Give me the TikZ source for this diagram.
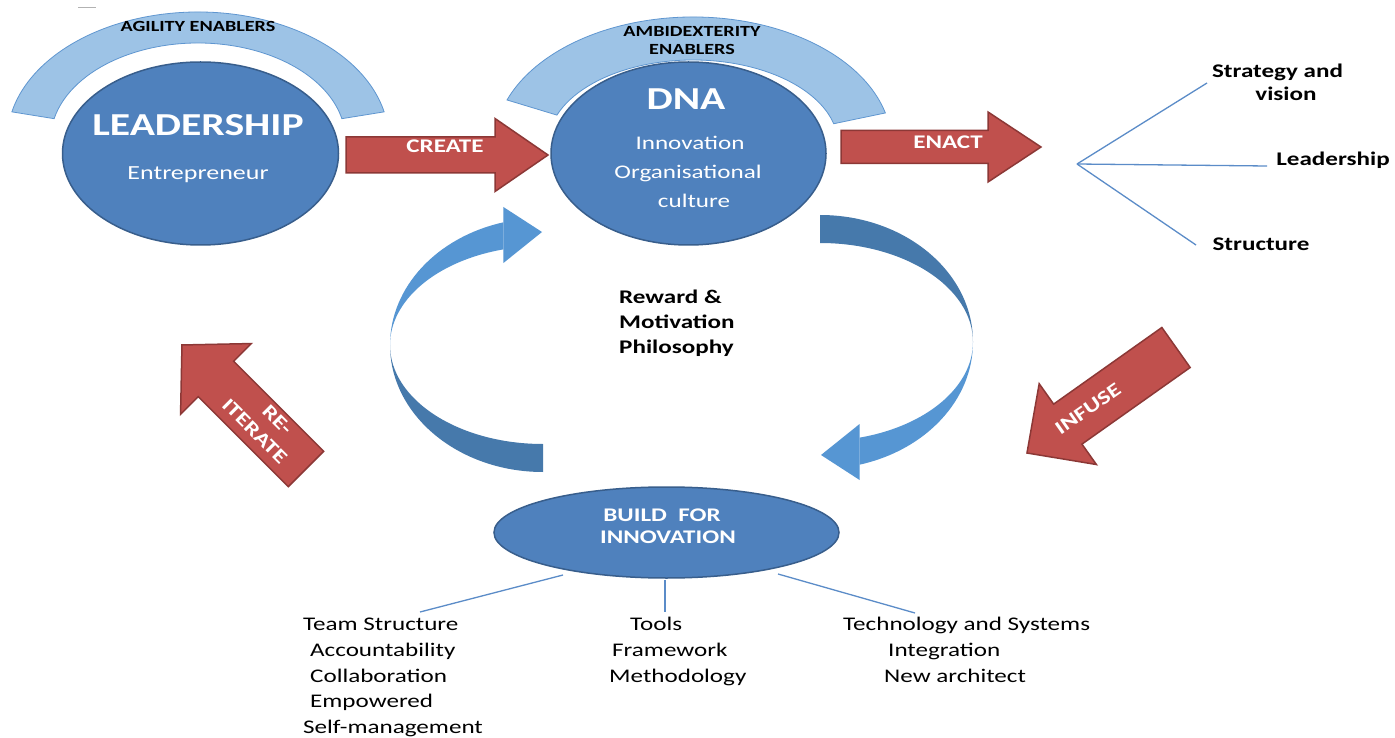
\documentclass[tikz,border=0pt]{standalone}
\usepackage{fontspec}
\setmainfont{Carlito}[FakeStretch=1.3]
\usetikzlibrary{calc,shapes.geometric}
\definecolor{ellfill}{RGB}{79,129,189}
\definecolor{elldraw}{RGB}{56,94,140}
\definecolor{arcfill}{RGB}{157,195,230}
\definecolor{arcdraw}{RGB}{95,150,208}
\definecolor{redfill}{RGB}{192,80,77}
\definecolor{reddraw}{RGB}{140,56,54}
\definecolor{crlight}{RGB}{86,150,211}
\definecolor{crdark}{RGB}{70,121,171}
\definecolor{lineblue}{RGB}{91,140,200}

\newcommand\blockarr[6]{%
\begin{scope}[shift={#1},rotate=#2]
\filldraw[fill=redfill,draw=reddraw,line width=1.5pt,line join=miter]
 (0,-#4) -- ({#3-#6},-#4) -- ({#3-#6},-#5) -- (#3,0) -- ({#3-#6},#5) -- ({#3-#6},#4) -- (0,#4) -- cycle;
\end{scope}}

\newcommand\curvarr{%
\fill[crlight] (105:153pt and 127pt) arc[start angle=105,end angle=180,x radius=153pt,y radius=127pt]
  arc[start angle=180,end angle=105,x radius=153pt,y radius=99pt] -- cycle;
\fill[crlight] (-39.6,138) -- (-1,113) -- (-39.6,82) -- cycle;
\fill[crdark] (180:153pt and 127pt) arc[start angle=180,end angle=270,x radius=153pt,y radius=127pt]
  -- (270:153pt and 99pt) arc[start angle=270,end angle=180,x radius=153pt,y radius=99pt] -- cycle;
}

\newcommand\enabler[7]{%
\filldraw[fill=arcfill,draw=arcdraw,line width=0.8pt]
 ($#1+(#2:#4pt and #5pt)$) arc[start angle=#2,end angle=#3,x radius=#4pt,y radius=#5pt]
 -- ($#1+(#3:#6pt and #7pt)$) arc[start angle=#3,end angle=#2,x radius=#6pt,y radius=#7pt] -- cycle;}

\tikzset{
  ell/.style={ellipse,fill=ellfill,draw=elldraw,line width=1.5pt,inner sep=0pt},
  conn/.style={draw=lineblue,line width=1.3pt},
  lbl/.style={font=\fontsize{19.3pt}{23pt}\selectfont,text=black,inner sep=0pt,text height=12pt,text depth=0pt},
  blbl/.style={lbl,font=\fontsize{19.3pt}{23pt}\selectfont\bfseries},
  wlbl/.style={blbl,text=white},
  wreg/.style={lbl,text=white},
  big/.style={font=\fontsize{32pt}{38pt}\selectfont\bfseries,text=white,inner sep=0pt,text height=20pt,text depth=0pt},
  small/.style={font=\fontsize{15.5pt}{18pt}\selectfont\bfseries,text=black,inner sep=0pt,text height=10pt,text depth=0pt}
}

\begin{document}
\begin{tikzpicture}[x=1pt,y=1pt]
\path[use as bounding box,fill=white] (0,0) rectangle (1395,-738);

% stray dash
\draw[gray!60,line width=1pt] (78,-8) -- (96,-8);

% enabler arcs
\enabler{(198,-140)}{12.7}{167.3}{190.8}{128}{147.5}{97}
\enabler{(693,-145)}{14.5}{159.4}{198.7}{128}{145.4}{85}

% main ellipses
\node[ell,minimum width=276pt,minimum height=183pt] (lead) at (200.5,-153.5) {};
\node[ell,minimum width=275pt,minimum height=183pt] (dna) at (688.5,-153.5) {};
\node[ell,minimum width=345pt,minimum height=91pt] (build) at (666.5,-532.5) {};

% curved arrows
\begin{scope}[shift={(543,-345)}] \curvarr \end{scope}
\begin{scope}[shift={(820,-342)},rotate=180] \curvarr \end{scope}

% block arrows
\blockarr{(346,-155)}{0}{202}{18}{36.5}{53}
\blockarr{(841,-147)}{0}{200}{16.5}{35}{53}
\blockarr{(1176,-347.5)}{215.3}{182.6}{24.5}{49.5}{50}
\blockarr{(306,-469)}{135}{175.4}{25}{50}{48}

% texts
\node[small] (agil) at (198,-27) {AGILITY ENABLERS};
\node[small] (amb1) at (692,-32) {AMBIDEXTERITY};
\node[small] (amb2) at (692,-50) {ENABLERS};
\node[big] (leadt) at (198,-126) {LEADERSHIP};
\node[wreg,font=\fontsize{20pt}{24pt}\selectfont] (entr) at (198,-174) {Entrepreneur};
\node[big] (dnat) at (686,-100) {DNA};
\node[wreg] (inno) at (690,-144) {Innovation};
\node[wreg] (orga) at (688,-173) {Organisational};
\node[wreg] (cult) at (694,-202) {culture};
\node[wlbl] (create) at (445,-147) {CREATE};
\node[wlbl] (enact) at (948,-143) {ENACT};
\node[wlbl,rotate=35] (infuse) at (1088,-409) {INFUSE};
\begin{scope}[shift={(263,-423)},rotate=-45]
\node[wlbl,transform shape] (re) at (8,12) {RE-};
\node[wlbl,transform shape] (iter) at (0,-12) {ITERATE};
\end{scope}
\node[blbl] (strat) at (1277.5,-72) {Strategy and};
\node[blbl] (vis) at (1286,-95) {vision};
\node[blbl] (leadr) at (1333,-160) {Leadership};
\node[blbl] (struc) at (1261,-245) {Structure};
\node[blbl,anchor=west] (rew) at (619,-297) {Reward \&};
\node[blbl,anchor=west] (mot) at (619,-322) {Motivation};
\node[blbl,anchor=west] (phil) at (619,-347) {Philosophy};
\node[wlbl] (bf) at (662,-515) {BUILD\ \ FOR};
\node[wlbl] (bi) at (668,-537) {INNOVATION};

\node[lbl,anchor=west] (t1) at (303,-624) {Team Structure};
\node[lbl,anchor=west] (t2) at (310,-650) {Accountability};
\node[lbl,anchor=west] (t3) at (310,-676) {Collaboration};
\node[lbl,anchor=west] (t4) at (310,-701) {Empowered};
\node[lbl,anchor=west] (t5) at (303,-727) {Self-management};
\node[lbl,anchor=west] (m1) at (630,-624) {Tools};
\node[lbl,anchor=west] (m2) at (612,-650) {Framework};
\node[lbl,anchor=west] (m3) at (609,-676) {Methodology};
\node[lbl,anchor=west] (r1) at (843,-624) {Technology and Systems};
\node[lbl,anchor=west] (r2) at (888,-650) {Integration};
\node[lbl,anchor=west] (r3) at (884,-676) {New architect};

% fan lines
\coordinate (fan) at (1077,-164);
\coordinate (f1) at (1207,-83);
\coordinate (f2) at (1267,-166);
\coordinate (f3) at (1196,-245);
\draw[conn] (fan) -- (f1);
\draw[conn] (fan) -- (f2);
\draw[conn] (fan) -- (f3);

% build lines
\coordinate (b1s) at (563,-575);
\coordinate (b1e) at (420,-612);
\coordinate (b2s) at (665,-580);
\coordinate (b2e) at (665,-612);
\coordinate (b3s) at (778,-574);
\coordinate (b3e) at (915,-613);
\draw[conn] (b1s) -- (b1e);
\draw[conn] (b2s) -- (b2e);
\draw[conn] (b3s) -- (b3e);
\end{tikzpicture}
\end{document}
